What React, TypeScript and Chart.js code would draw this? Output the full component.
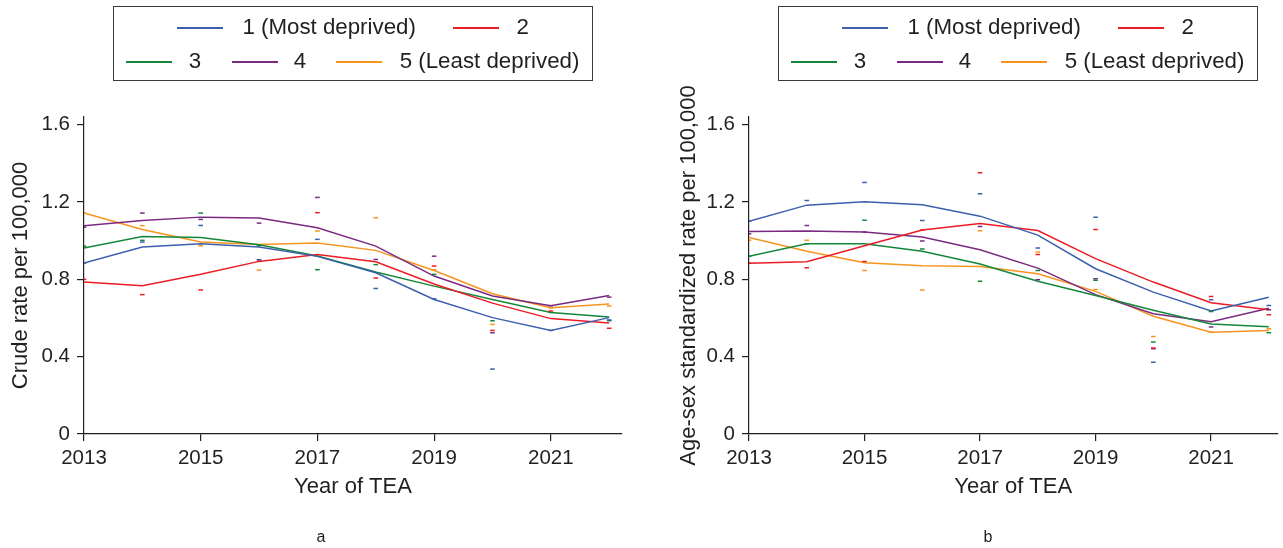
import React, { useEffect, useRef } from 'react';
import { Chart, registerables } from 'chart.js';

Chart.register(...registerables);

const FONT = '"Liberation Sans", Arial, Helvetica, sans-serif';
const INK = '#231f20';

// ---------- shared ----------
const years = [2013, 2014, 2015, 2016, 2017, 2018, 2019, 2020, 2021, 2022];
const xTickValues = [2013, 2015, 2017, 2019, 2021];
const yTickValues = [0, 0.4, 0.8, 1.2, 1.6];
const seriesNames = ['1 (Most deprived)', '2', '3', '4', '5 (Least deprived)'];
const seriesColors = ['#3c5fae', '#ec1c24', '#14873b', '#7b2a82', '#f7941d'];
const xAxisTitle = 'Year of TEA';

// ---------- panel a: crude rate ----------
const crudeTitle = 'Crude rate per 100,000';
const crudeFit1 = [0.884, 0.967, 0.984, 0.967, 0.919, 0.834, 0.696, 0.602, 0.536, 0.602];
const crudeFit2 = [0.786, 0.767, 0.826, 0.893, 0.928, 0.891, 0.776, 0.677, 0.597, 0.574];
const crudeFit3 = [0.962, 1.022, 1.017, 0.979, 0.921, 0.838, 0.765, 0.696, 0.629, 0.605];
const crudeFit4 = [1.078, 1.105, 1.122, 1.117, 1.067, 0.972, 0.817, 0.714, 0.664, 0.717];
const crudeFit5 = [1.143, 1.058, 0.993, 0.981, 0.988, 0.950, 0.846, 0.726, 0.653, 0.672];

const crudeObs1 = [0.884, 0.993, 1.079, 0.902, 1.007, 0.753, 0.700, 0.336, 0.536, 0.590];
const crudeObs2 = [0.800, 0.721, 0.745, 0.900, 1.145, 0.807, 0.869, 0.536, 0.636, 0.547];
const crudeObs3 = [0.972, 1.002, 1.143, 0.975, 0.850, 0.876, 0.826, 0.586, 0.629, 0.586];
const crudeObs4 = [1.070, 1.143, 1.110, 1.091, 1.224, 0.903, 0.920, 0.524, 0.664, 0.708];
const crudeObs5 = [1.143, 1.078, 0.974, 0.848, 1.050, 1.119, 0.850, 0.567, 0.653, 0.662];

// ---------- panel b: age-sex standardized rate ----------
const stdTitle = 'Age-sex standardized rate per 100,000';
const stdFit1 = [1.101, 1.184, 1.202, 1.186, 1.127, 1.029, 0.855, 0.734, 0.636, 0.707];
const stdFit2 = [0.883, 0.891, 0.974, 1.055, 1.089, 1.053, 0.907, 0.786, 0.679, 0.643];
const stdFit3 = [0.920, 0.984, 0.984, 0.945, 0.879, 0.790, 0.717, 0.640, 0.569, 0.555];
const stdFit4 = [1.048, 1.050, 1.045, 1.019, 0.953, 0.858, 0.721, 0.622, 0.581, 0.651];
const stdFit5 = [1.017, 0.946, 0.886, 0.871, 0.866, 0.829, 0.738, 0.609, 0.526, 0.536];

const stdObs1 = [1.101, 1.208, 1.301, 1.105, 1.243, 0.962, 1.122, 0.371, 0.695, 0.665];
const stdObs2 = [0.883, 0.860, 0.893, 1.055, 1.352, 0.929, 1.058, 0.445, 0.712, 0.617];
const stdObs3 = [0.920, 0.984, 1.106, 0.957, 0.790, 0.846, 0.795, 0.476, 0.634, 0.524];
const stdObs4 = [1.036, 1.079, 1.045, 0.998, 1.074, 0.798, 0.803, 0.441, 0.553, 0.643];
const stdObs5 = [1.002, 1.002, 0.846, 0.745, 1.051, 0.941, 0.748, 0.505, 0.526, 0.545];

type PanelProps = {
  left: number;
  width: number;
  yScaleWidth: number;
  rightPad: number;
  xMax: number;
  yTitle: string;
  yTitlePad: number;
  fits: number[][];
  obs: number[][];
};

function Panel(p: PanelProps) {
  const ref = useRef<HTMLCanvasElement | null>(null);
  useEffect(() => {
    if (!ref.current) return;
    const toPts = (vals: number[]) => vals.map((v, i) => ({ x: years[i], y: v }));
    const datasets: any[] = [];
    p.obs.forEach((vals, i) => {
      datasets.push({
        label: seriesNames[i] + ' observed',
        data: toPts(vals),
        showLine: false,
        pointStyle: 'line',
        pointRadius: 2.3,
        pointBorderWidth: 1.5,
        borderColor: seriesColors[i],
        backgroundColor: seriesColors[i],
      });
    });
    p.fits.forEach((vals, i) => {
      datasets.push({
        label: seriesNames[i],
        data: toPts(vals),
        showLine: true,
        borderColor: seriesColors[i],
        backgroundColor: seriesColors[i],
        borderWidth: 1.5,
        pointRadius: 0,
        tension: 0,
      });
    });
    const chart = new Chart(ref.current, {
      type: 'line',
      data: { datasets },
      options: {
        responsive: false,
        animation: false,
        layout: { padding: { left: 0, right: p.rightPad, top: 117, bottom: 48 } },
        plugins: { legend: { display: false }, tooltip: { enabled: false } },
        scales: {
          x: {
            type: 'linear',
            min: 2013,
            max: p.xMax,
            afterBuildTicks: (s: any) => {
              s.ticks = xTickValues.map((v) => ({ value: v }));
            },
            afterFit: (s: any) => {
              s.height = 66;
            },
            grid: { display: true, drawOnChartArea: false, drawTicks: true, tickLength: 7, color: INK, lineWidth: 1.2 },
            border: { display: true, color: INK, width: 1.2 },
            ticks: {
              color: INK,
              font: { family: FONT, size: 20.5 },
              padding: 5,
              maxRotation: 0,
              autoSkip: false,
              callback: (v: any) => String(v),
            },
            title: {
              display: true,
              text: xAxisTitle,
              color: INK,
              font: { family: FONT, size: 22 },
              padding: { top: 0, bottom: 0 },
            },
          },
          y: {
            type: 'linear',
            min: 0,
            max: 1.64,
            afterBuildTicks: (s: any) => {
              s.ticks = yTickValues.map((v) => ({ value: v }));
            },
            afterFit: (s: any) => {
              s.width = p.yScaleWidth;
            },
            grid: { display: true, drawOnChartArea: false, drawTicks: true, tickLength: 7, color: INK, lineWidth: 1.2 },
            border: { display: true, color: INK, width: 1.2 },
            ticks: {
              color: INK,
              font: { family: FONT, size: 20.5 },
              padding: 7,
              callback: (v: any) => (Number(v) === 0 ? '0' : Number(v).toFixed(1)),
            },
            title: {
              display: true,
              text: p.yTitle,
              color: INK,
              font: { family: FONT, size: 22 },
              padding: { top: p.yTitlePad, bottom: 0 },
            },
          },
        },
      },
    });
    return () => chart.destroy();
  }, []);
  return (
    <canvas
      ref={ref}
      width={p.width}
      height={548}
      style={{ position: 'absolute', left: p.left, top: 0, width: p.width, height: 548 }}
    />
  );
}

function Legend({ boxLeft }: { boxLeft: number }) {
  const rowY = [27, 61];
  // item layout relative to box left
  const items = [
    { row: 0, lineX: 64.4, textX: 129.4 },
    { row: 0, lineX: 339.7, textX: 403.4 },
    { row: 1, lineX: 12.7, textX: 75.7 },
    { row: 1, lineX: 118.7, textX: 180.7 },
    { row: 1, lineX: 222.7, textX: 286.7 },
  ];
  return (
    <>
      <div
        style={{
          position: 'absolute',
          left: boxLeft,
          top: 6,
          width: 480,
          height: 75,
          boxSizing: 'border-box',
          border: '1.3px solid #3a3a3a',
        }}
      />
      {items.map((it, i) => (
        <React.Fragment key={i}>
          <div
            style={{
              position: 'absolute',
              left: boxLeft + it.lineX,
              top: rowY[it.row],
              width: 46,
              height: 2,
              backgroundColor: seriesColors[i],
            }}
          />
          <div
            style={{
              position: 'absolute',
              left: boxLeft + it.textX,
              top: rowY[it.row] - 15,
              height: 30,
              lineHeight: '30px',
              fontFamily: FONT,
              fontSize: 22.3,
              color: INK,
              whiteSpace: 'nowrap',
            }}
          >
            {seriesNames[i]}
          </div>
        </React.Fragment>
      ))}
    </>
  );
}

export default function App() {
  return (
    <div
      style={{
        position: 'fixed',
        left: 0,
        top: 0,
        width: 1283,
        height: 548,
        background: '#ffffff',
        overflow: 'hidden',
      }}
    >
      <Panel
        left={0}
        width={641}
        yScaleWidth={84}
        rightPad={19}
        xMax={2022.22}
        yTitle={crudeTitle}
        yTitlePad={8}
        fits={[crudeFit1, crudeFit2, crudeFit3, crudeFit4, crudeFit5]}
        obs={[crudeObs1, crudeObs2, crudeObs3, crudeObs4, crudeObs5]}
      />
      <Panel
        left={641}
        width={642}
        yScaleWidth={108}
        rightPad={0}
        xMax={2022.15}
        yTitle={stdTitle}
        yTitlePad={35}
        fits={[stdFit1, stdFit2, stdFit3, stdFit4, stdFit5]}
        obs={[stdObs1, stdObs2, stdObs3, stdObs4, stdObs5]}
      />
      <Legend boxLeft={113} />
      <Legend boxLeft={778} />
      <div
        style={{
          position: 'absolute',
          left: 301,
          top: 527,
          width: 40,
          textAlign: 'center',
          lineHeight: '20px',
          fontFamily: FONT,
          fontSize: 16,
          color: INK,
        }}
      >
        a
      </div>
      <div
        style={{
          position: 'absolute',
          left: 968,
          top: 527,
          width: 40,
          textAlign: 'center',
          lineHeight: '20px',
          fontFamily: FONT,
          fontSize: 16,
          color: INK,
        }}
      >
        b
      </div>
    </div>
  );
}
